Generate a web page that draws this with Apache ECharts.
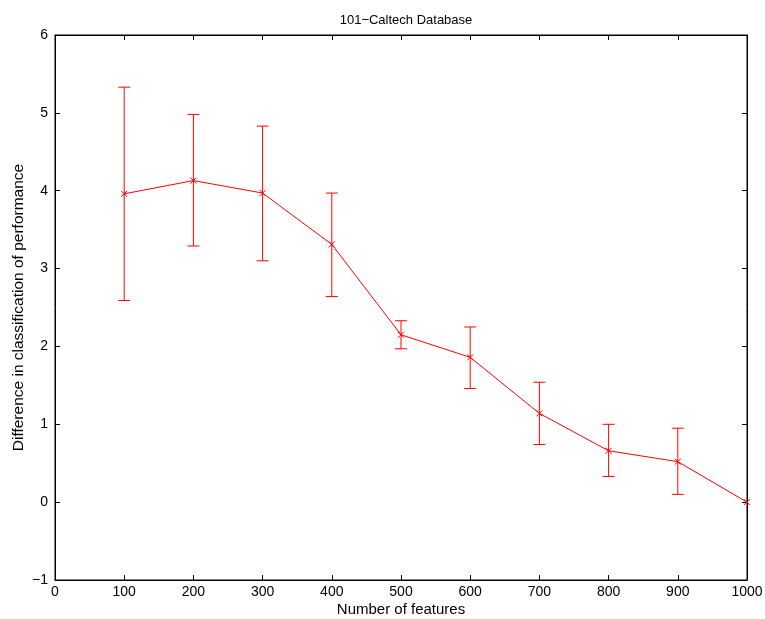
<!DOCTYPE html>
<html>
<head>
<meta charset="utf-8">
<script src="https://cdn.jsdelivr.net/npm/echarts@6/dist/echarts.min.js"></script>
<style>html,body{margin:0;padding:0;background:#fff}#c{width:765px;height:619px}</style>
</head>
<body>
<div id="c"></div>
<script>
var features = [100, 200, 300, 400, 500, 600, 700, 800, 900, 1000];
var meanDiff = [3.96, 4.13, 3.97, 3.31, 2.15, 1.86, 1.14, 0.66, 0.52, 0.00];
var errHigh  = [5.33, 4.98, 4.83, 3.97, 2.33, 2.25, 1.54, 1.00, 0.95, 0.00];
var errLow   = [2.59, 3.29, 3.10, 2.64, 1.97, 1.46, 0.74, 0.33, 0.10, 0.00];
var xTicks = [0, 100, 200, 300, 400, 500, 600, 700, 800, 900, 1000];
var yTicks = [-1, 0, 1, 2, 3, 4, 5, 6];

var FONT = 'Liberation Sans, Arial, Helvetica, sans-serif';
var RED = '#ff0000';
var chart = echarts.init(document.getElementById('c'));

var lineData = features.map(function (f, i) { return [f, meanDiff[i]]; });
var errData = features.map(function (f, i) { return [f, errLow[i], errHigh[i], meanDiff[i]]; });

function tickFmt(v) { return String(v).replace('-', '\u2212'); }

var option = {
  animation: false,
  backgroundColor: '#fff',
  title: {
    text: '101\u2212Caltech Database',
    left: 401, top: 9, textAlign: 'center',
    textStyle: { fontFamily: FONT, fontSize: 13, fontWeight: 'normal', color: '#000' }
  },
  grid: { left: 55, top: 35, right: 18, bottom: 39, show: true, borderColor: '#000', borderWidth: 1,
          containLabel: false, outerBoundsMode: 'none' },
  xAxis: [{
    type: 'value', min: xTicks[0], max: xTicks[xTicks.length - 1], interval: 100, position: 'bottom',
    name: 'Number of features', nameLocation: 'middle', nameGap: 22, nameMoveOverlap: false,
    nameTextStyle: { fontFamily: FONT, fontSize: 15, color: '#000' },
    axisLine: { show: true, onZero: false, lineStyle: { color: '#000', width: 1 } },
    axisTick: { show: true, inside: true, length: 5, lineStyle: { color: '#000' } },
    axisLabel: { fontFamily: FONT, fontSize: 14, color: '#000', margin: 5, formatter: tickFmt },
    splitLine: { show: false }
  }, {
    type: 'value', min: xTicks[0], max: xTicks[xTicks.length - 1], interval: 100, position: 'top',
    axisLine: { show: true, onZero: false, lineStyle: { color: '#000', width: 1 } },
    axisTick: { show: true, inside: true, length: 5, lineStyle: { color: '#000' } },
    axisLabel: { show: false }, splitLine: { show: false }
  }],
  yAxis: [{
    type: 'value', min: yTicks[0], max: yTicks[yTicks.length - 1], interval: 1, position: 'left',
    name: 'Difference in classification of performance', nameLocation: 'middle', nameGap: 28, nameMoveOverlap: false,
    nameTextStyle: { fontFamily: FONT, fontSize: 15.5, color: '#000' },
    axisLine: { show: true, onZero: false, lineStyle: { color: '#000', width: 1 } },
    axisTick: { show: true, inside: true, length: 5, lineStyle: { color: '#000' } },
    axisLabel: { fontFamily: FONT, fontSize: 14, color: '#000', margin: 7, formatter: tickFmt },
    splitLine: { show: false }
  }, {
    type: 'value', min: yTicks[0], max: yTicks[yTicks.length - 1], interval: 1, position: 'right',
    axisLine: { show: true, onZero: false, lineStyle: { color: '#000', width: 1 } },
    axisTick: { show: true, inside: true, length: 5, lineStyle: { color: '#000' } },
    axisLabel: { show: false }, splitLine: { show: false }
  }],
  series: [{
    type: 'line', data: lineData, xAxisIndex: 0, yAxisIndex: 0,
    showSymbol: false, lineStyle: { color: RED, width: 1 }, itemStyle: { color: RED }, z: 3
  }, {
    type: 'custom', data: errData, xAxisIndex: 0, yAxisIndex: 0, z: 4,
    renderItem: function (params, api) {
      var x = api.value(0);
      var lo = api.coord([x, api.value(1)]);
      var hi = api.coord([x, api.value(2)]);
      var c = api.coord([x, api.value(3)]);
      var w = 6, m = 3;
      var st = { stroke: RED, lineWidth: 1, fill: null };
      var children = [];
      if (Math.abs(hi[1] - lo[1]) > 0.5) {
        children.push({ type: 'line', shape: { x1: lo[0], y1: lo[1], x2: hi[0], y2: hi[1] }, style: st });
        children.push({ type: 'line', shape: { x1: hi[0] - w, y1: hi[1], x2: hi[0] + w, y2: hi[1] }, style: st });
        children.push({ type: 'line', shape: { x1: lo[0] - w, y1: lo[1], x2: lo[0] + w, y2: lo[1] }, style: st });
      }
      children.push({ type: 'line', shape: { x1: c[0] - m, y1: c[1] - m, x2: c[0] + m, y2: c[1] + m }, style: st });
      children.push({ type: 'line', shape: { x1: c[0] - m, y1: c[1] + m, x2: c[0] + m, y2: c[1] - m }, style: st });
      return { type: 'group', children: children };
    }
  }]
};
chart.setOption(option);
</script>
</body>
</html>
